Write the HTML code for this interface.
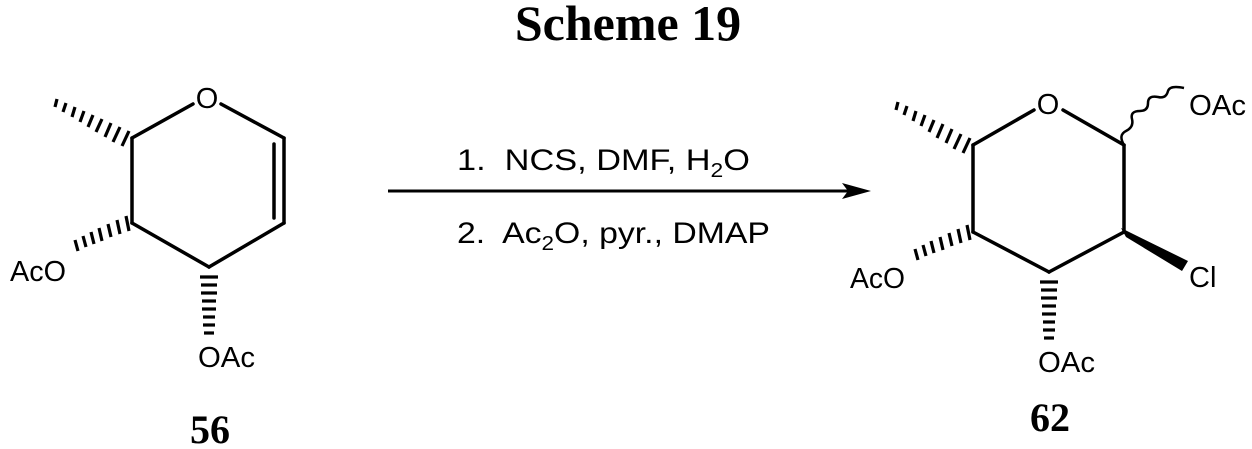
<!DOCTYPE html>
<html><head><meta charset="utf-8"><style>
html,body{margin:0;padding:0;background:#fff;}
svg{display:block;}
text{font-family:"Liberation Sans",Arial,sans-serif;fill:#000;}
.s{font-family:"Liberation Serif","Times New Roman",serif;font-weight:bold;}
</style></head><body>
<svg width="1252" height="449" viewBox="0 0 1252 449" xmlns="http://www.w3.org/2000/svg">
<text class="s" x="628" y="40" font-size="50" text-anchor="middle">Scheme 19</text>

<!-- left molecule 56 -->
<g stroke="#000" stroke-width="3.5" fill="none" stroke-linecap="round">
<line x1="132" y1="138" x2="193" y2="104"/>
<line x1="221" y1="104" x2="284" y2="138"/>
<line x1="284" y1="138" x2="284" y2="223"/>
<line x1="274" y1="144" x2="274" y2="218"/>
<line x1="284" y1="223" x2="209" y2="267"/>
<line x1="209" y1="267" x2="132" y2="223"/>
<line x1="132" y1="223" x2="132" y2="138"/>
</g>
<g stroke="#000" stroke-width="3.2">
<line x1="129" y1="131" x2="122" y2="146"/>
<line x1="120" y1="127" x2="113" y2="142"/>
<line x1="111" y1="123" x2="105" y2="137"/>
<line x1="102" y1="119" x2="96" y2="132"/>
<line x1="93" y1="115" x2="88" y2="127"/>
<line x1="84" y1="111" x2="80" y2="122"/>
<line x1="75" y1="107" x2="72" y2="117"/>
<line x1="66" y1="103" x2="63" y2="112"/>
<line x1="57" y1="99" x2="55" y2="107"/>
<line x1="126" y1="216" x2="129" y2="231"/>
<line x1="117" y1="220" x2="120" y2="234"/>
<line x1="108" y1="224" x2="111" y2="237"/>
<line x1="99" y1="228" x2="102" y2="241"/>
<line x1="91" y1="232" x2="94" y2="244"/>
<line x1="83" y1="236" x2="86" y2="247"/>
<line x1="75" y1="240" x2="78" y2="251"/>
<line x1="200" y1="277" x2="218" y2="277"/>
<line x1="201" y1="285" x2="217" y2="285"/>
<line x1="201" y1="293" x2="217" y2="293"/>
<line x1="202" y1="301" x2="216" y2="301"/>
<line x1="202" y1="309" x2="216" y2="309"/>
<line x1="203" y1="317" x2="215" y2="317"/>
<line x1="203" y1="325" x2="215" y2="325"/>
<line x1="204" y1="333" x2="214" y2="333"/>
</g>
<text x="207" y="108" font-size="29" text-anchor="middle">O</text>
<text x="10" y="281" font-size="29" textLength="56" lengthAdjust="spacingAndGlyphs">AcO</text>
<text x="198" y="367" font-size="29" textLength="57" lengthAdjust="spacingAndGlyphs">OAc</text>
<text class="s" x="210" y="443" font-size="40" text-anchor="middle">56</text>

<!-- arrow -->
<line x1="388" y1="191" x2="850" y2="191" stroke="#000" stroke-width="3"/>
<polygon points="871,191 842,183 848,191 842,199" fill="#000"/>
<text x="457" y="170" font-size="30" textLength="293" lengthAdjust="spacingAndGlyphs" xml:space="preserve">1.  NCS, DMF, H<tspan font-size="20" dy="7">2</tspan><tspan dy="-7">O</tspan></text>
<text x="457" y="243" font-size="30" textLength="313" lengthAdjust="spacingAndGlyphs" xml:space="preserve">2.  Ac<tspan font-size="20" dy="7">2</tspan><tspan dy="-7">O, pyr., DMAP</tspan></text>

<!-- right molecule 62 -->
<g stroke="#000" stroke-width="3.5" fill="none" stroke-linecap="round">
<line x1="973" y1="145" x2="1034" y2="110"/>
<line x1="1063" y1="110" x2="1124" y2="145"/>
<line x1="1124" y1="145" x2="1124" y2="232"/>
<line x1="1124" y1="232" x2="1049" y2="272"/>
<line x1="1049" y1="272" x2="973" y2="232"/>
<line x1="973" y1="232" x2="973" y2="145"/>
</g>
<path d="M1124,145 q-6,-10 2,-14 q8,-4 6,-12 q-2,-8 8,-8 q8,0 8,-8 q0,-8 10,-6 q8,2 10,-6 q2,-6 16,-3" stroke="#000" stroke-width="2.5" fill="none"/>
<polygon points="1121,228 1126,237 1182,271 1188,261" fill="#000"/>
<g stroke="#000" stroke-width="3.2">
<line x1="970" y1="138" x2="963" y2="153"/>
<line x1="961" y1="134" x2="954" y2="149"/>
<line x1="952" y1="129" x2="946" y2="143"/>
<line x1="943" y1="124" x2="937" y2="138"/>
<line x1="934" y1="120" x2="929" y2="132"/>
<line x1="925" y1="115" x2="921" y2="126"/>
<line x1="916" y1="111" x2="913" y2="121"/>
<line x1="907" y1="106" x2="904" y2="115"/>
<line x1="898" y1="102" x2="896" y2="110"/>
<line x1="967" y1="225" x2="970" y2="240"/>
<line x1="958" y1="229" x2="961" y2="243"/>
<line x1="949" y1="233" x2="952" y2="246"/>
<line x1="940" y1="237" x2="943" y2="250"/>
<line x1="931" y1="241" x2="934" y2="253"/>
<line x1="923" y1="245" x2="926" y2="256"/>
<line x1="915" y1="249" x2="918" y2="260"/>
<line x1="1040" y1="282" x2="1058" y2="282"/>
<line x1="1041" y1="290" x2="1057" y2="290"/>
<line x1="1041" y1="298" x2="1057" y2="298"/>
<line x1="1042" y1="306" x2="1056" y2="306"/>
<line x1="1042" y1="314" x2="1056" y2="314"/>
<line x1="1043" y1="322" x2="1055" y2="322"/>
<line x1="1043" y1="330" x2="1055" y2="330"/>
<line x1="1044" y1="338" x2="1054" y2="338"/>
</g>
<text x="1048" y="114" font-size="29" text-anchor="middle">O</text>
<text x="1189" y="115" font-size="29" textLength="57" lengthAdjust="spacingAndGlyphs">OAc</text>
<text x="850" y="288" font-size="29" textLength="55" lengthAdjust="spacingAndGlyphs">AcO</text>
<text x="1189" y="287" font-size="29">Cl</text>
<text x="1038" y="372" font-size="29" textLength="57" lengthAdjust="spacingAndGlyphs">OAc</text>
<text class="s" x="1050" y="431" font-size="40" text-anchor="middle">62</text>
</svg>
</body></html>
